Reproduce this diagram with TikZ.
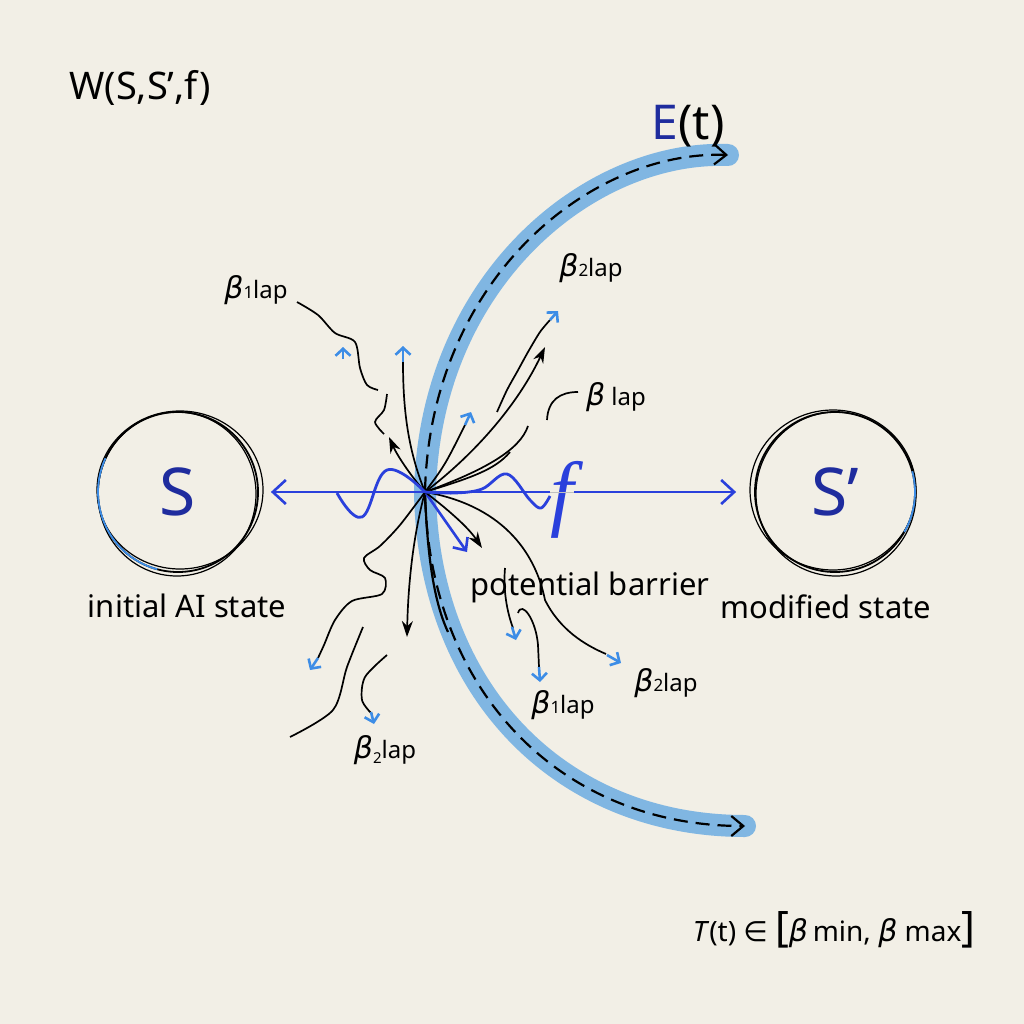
\documentclass[tikz,border=0pt]{standalone}
\usepackage{fontspec}
\setmainfont{Noto Sans}
\newfontfamily\symfont{DejaVu Sans}
\newfontfamily\ffont{Liberation Serif}
\usetikzlibrary{arrows.meta}
\definecolor{paper}{HTML}{F2EFE6}
\definecolor{band}{HTML}{80B6E2}
\definecolor{fblue}{HTML}{2A40DC}
\definecolor{tipblue}{HTML}{3D8DE6}
\definecolor{sblue}{HTML}{1F2C9E}
\tikzset{lbl/.style={inner sep=0pt,font=\fontsize{31}{34}\selectfont}}
\tikzset{blbl/.style={inner sep=0pt,font=\fontsize{24}{26}\selectfont}}
\tikzset{state/.style={circle,draw,line width=1.8pt,minimum size=160pt,inner sep=0pt,font=\fontsize{66}{66}\selectfont,text=sblue}}
\tikzset{ray/.style={line width=1.7pt,black}}
\tikzset{rayt/.style={ray,-{Stealth[length=16pt,width=11pt]}}}
\tikzset{btip/.style={line width=2.6pt,tipblue,-{Straight Barb[length=7pt,width=15pt]}}}
\tikzset{fline/.style={line width=2.6pt,fblue}}
\newcommand{\bta}{{\symfont\itshape\fontsize{30}{30}\selectfont β}}

\begin{document}
\begin{tikzpicture}[x=1pt,y=-1pt]
\fill[paper] (0,0) rectangle (1024,1024);
\useasboundingbox (0,0) rectangle (1024,1024);

\coordinate (c) at (425,492);
\coordinate (etop) at (728,155);
\coordinate (ebot) at (745,826);

% barrier E(t)
\draw[band,line width=22pt,line cap=round] (etop) .. controls (590,150) and (430,280) .. (c) .. controls (428,690) and (560,826) .. (ebot);
\draw[line width=2.2pt,dash pattern=on 14pt off 8pt,{Straight Barb[length=12pt,width=20pt]}-{Straight Barb[length=12pt,width=20pt]}] (etop) .. controls (590,150) and (430,280) .. (c) .. controls (428,690) and (560,826) .. (ebot);
\draw[line width=2.2pt] (c) .. controls (427,550) and (433,600) .. (448,632);

% rays from the crossing
\draw[rayt] (c) .. controls (410,475) and (397,455) .. (389,437);
\draw[ray] (c) .. controls (408,450) and (403,410) .. (403,362);
\draw[btip] (403,362) -- (403,346);
\draw[ray] (c) .. controls (445,465) .. (465,425);
\draw[btip] (465,425) -- (471,412);
\draw[rayt] (c) .. controls (480,450) and (520,400) .. (545,347);
\draw[ray] (c) .. controls (485,470) and (520,450) .. (528,426);
\draw[ray] (c) .. controls (470,478) and (495,470) .. (510,452);
\draw[fline,-{Straight Barb[length=10pt,width=18pt]}] (c) -- (467,552);
\draw[rayt] (c) .. controls (455,515) and (470,530) .. (482,548);
\draw[ray] (c) .. controls (500,505) and (535,550) .. (545,600) .. controls (560,630) and (585,645) .. (606,654);
\draw[btip] (607,655) -- (621,663);
\draw[rayt] (c) .. controls (412,540) and (408,590) .. (407,637);
\draw[ray] plot[smooth] coordinates {(c) (400,525) (380,546) (364,558) (370,570) (385,578) (382,594) (352,601) (335,620) (324,645) (318,658)};
\draw[btip] (318,658) -- (310,670);

% loose strokes
\draw[ray] plot[smooth] coordinates {(497,412) (507,390) (517,372) (528,352) (540,332) (550,320)};
\draw[btip] (550,320) -- (558,311);
\draw[ray] (547,420) .. controls (548,400) and (560,392) .. (578,392);
\draw[ray] plot[smooth] coordinates {(297,302) (318,315) (335,333) (355,342) (360,368) (367,385) (378,390)};
\draw[ray] plot[smooth] coordinates {(387,394) (384,410) (375,422) (384,434)};
\draw[btip] (343,359) -- (343,347);
\draw[ray] (505,568) .. controls (503,590) and (507,612) .. (513,628);
\draw[btip] (512,627) -- (516,640);
\draw[ray] (518,613) .. controls (522,600) and (536,620) .. (538,645) -- (539,667);
\draw[btip] (539,667) -- (540,682);
\draw[ray] plot[smooth] coordinates {(363,627) (347,667) (333,710) (290,737)};
\draw[ray] plot[smooth] coordinates {(387,655) (365,677) (362,700) (372,714)};
\draw[btip] (371,712) -- (374,724);

% states
\node[state] (S) at (178,492) {S};
\draw[line width=1.2pt] ([shift={(2,-2)}]S.center) ellipse [x radius=83pt,y radius=79pt];
\draw[line width=1.2pt] ([shift={(-1,2)}]S.center) ellipse [x radius=79pt,y radius=82pt];
\draw[tipblue,line width=1.8pt] ([shift={(155:80pt)}]S.center) arc[start angle=155,end angle=255,radius=80pt];
\node[state] (Sp) at (835,492) {S’};
\draw[line width=1.2pt] ([shift={(-2,-2)}]Sp.center) ellipse [x radius=83pt,y radius=80pt];
\draw[line width=1.2pt] ([shift={(1,2)}]Sp.center) ellipse [x radius=80pt,y radius=82pt];
\draw[tipblue,line width=1.8pt] ([shift={(-30:80pt)}]Sp.center) arc[start angle=-30,end angle=15,radius=80pt];

% field f
\node[inner sep=0pt,text=fblue,font=\ffont\itshape\fontsize{84}{84}\selectfont] (f) at (562,500) {f};
\draw[fline,line width=2.8pt] plot[smooth,tension=0.7] coordinates {(337,493) (362,517) (387,470) (c)};
\draw[fline,line width=2.8pt] plot[smooth,tension=0.6] coordinates {(c) (455,493) (482,489) (507,474) (530,500) (541,508) (550,496)};
\draw[fline,-{Straight Barb[length=13pt,width=24pt]},shorten >=12pt] (c) -- (S.east);
\draw[fline] (c) -- (f.west |- c);
\draw[gray!50,line width=1pt] (f.west |- c) -- (f.east |- c);
\draw[fline,-{Straight Barb[length=13pt,width=24pt]},shorten >=18pt] (f.east |- c) -- (Sp.west);

% labels
\node[inner sep=0pt,font=\fontsize{38}{40}\selectfont] (W) at (140,88) {W(S,S’,f)};
\node[inner sep=0pt,font=\fontsize{48}{50}\selectfont] (E) at (688,126) {\textcolor{sblue}{E}(t)};
\node[lbl] (init) at (187,606) {initial AI state};
\node[lbl] (mod) at (826,607) {modified state};
\node[lbl] (pot) at (590,587) {potential barrier};
\node[blbl] (b1a) at (256,290) {\bta{\fontsize{17}{17}\selectfont 1}lap};
\node[blbl] (b2a) at (591,268) {\bta{\fontsize{17}{17}\selectfont 2}lap};
\node[blbl] (ba) at (616,397) {\bta\ lap};
\node[blbl] (b2b) at (666,683) {\bta{\fontsize{17}{17}\selectfont 2}lap};
\node[blbl] (b1b) at (563,705) {\bta{\fontsize{17}{17}\selectfont 1}lap};
\node[blbl] (b2c) at (385,750) {\bta\raisebox{-5pt}{\fontsize{15}{15}\selectfont 2}lap};
\node[inner sep=0pt,font=\fontsize{28}{32}\selectfont] (T) at (834,930) {\textit{T}(t) {\symfont ∈} {\fontsize{42}{42}\selectfont[}\bta\,min, \bta\ max{\fontsize{42}{42}\selectfont]}};
\end{tikzpicture}
\end{document}
